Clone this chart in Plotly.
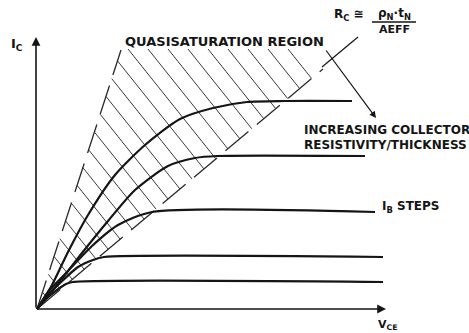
import plotly.graph_objects as go

# ---- Collector characteristic curves (V_CE, I_C), arbitrary units ----
vce_1 = [0, 15, 31, 51, 78, 108, 143, 176, 210, 248, 315]
ic_1 = [0, 24, 57, 94, 134, 164, 190, 201, 207, 208, 208]
vce_2 = [0, 20, 45, 71, 98, 131, 158, 180, 328]
ic_2 = [0, 24, 56, 88, 119, 143, 151, 153, 153]
vce_3 = [0, 12, 31, 55, 81, 115, 338]
ic_3 = [0, 18, 38, 63, 84, 97, 97]
vce_4 = [0, 10, 21, 41, 56, 67, 346]
ic_4 = [0, 13, 24, 42, 49, 52, 52]
vce_5 = [0, 10, 20, 29, 36, 346]
ic_5 = [0, 11, 19, 25, 27, 27]

# ---- Quasisaturation region boundaries ----
left_edge_x = [0, 84]
left_edge_y = [0, 259]
lower_edge_x = [0, 286]
lower_edge_y = [0, 240]
hatch_top_y = 260
hatch_offsets = list(range(19, 460, 20))  # hatch lines: x + 0.8*y = offset

INK = "#151515"
FONT = "DejaVu Sans"

fig = go.Figure()

# hatch lines
hx, hy = [], []
kl = left_edge_x[1] + 0.8 * left_edge_y[1]
kb = lower_edge_x[1] + 0.8 * lower_edge_y[1]
for k in hatch_offsets:
    t = k / kl
    if t <= 1:
        sx, sy = t * left_edge_x[1], t * left_edge_y[1]
    else:
        sy = hatch_top_y
        sx = k - 0.8 * sy
    s = k / kb
    ex, ey = s * lower_edge_x[1], s * lower_edge_y[1]
    hx += [sx, ex, None]
    hy += [sy, ey, None]
fig.add_trace(go.Scatter(x=hx, y=hy, mode="lines",
                         line=dict(color="#3a3a3a", width=1), hoverinfo="skip"))

# region boundaries (dashed)
for bx, by in [(left_edge_x, left_edge_y), (lower_edge_x, lower_edge_y)]:
    fig.add_trace(go.Scatter(x=bx, y=by, mode="lines",
                             line=dict(color="#2a2a2a", width=1.3, dash="30px,11px"),
                             hoverinfo="skip"))

# characteristic curves
for vx, iy in [(vce_1, ic_1), (vce_2, ic_2), (vce_3, ic_3), (vce_4, ic_4), (vce_5, ic_5)]:
    fig.add_trace(go.Scatter(x=vx, y=iy, mode="lines",
                             line=dict(color=INK, width=2.2, shape="spline", smoothing=0.7),
                             hoverinfo="skip"))

# leader line from R_C formula
fig.add_trace(go.Scatter(x=[321, 285], y=[272, 242], mode="lines",
                         line=dict(color=INK, width=1.2), hoverinfo="skip"))

annotations = []
# axes with arrows
annotations.append(dict(x=-1, y=272, ax=-1, ay=0, xref="x", yref="y", axref="x", ayref="y",
                        text="", showarrow=True, arrowhead=2, arrowsize=1.1, arrowwidth=1.6,
                        arrowcolor=INK))
annotations.append(dict(x=349, y=0, ax=-1, ay=0, xref="x", yref="y", axref="x", ayref="y",
                        text="", showarrow=True, arrowhead=2, arrowsize=1.1, arrowwidth=1.6,
                        arrowcolor=INK))
# increasing resistivity arrow
annotations.append(dict(x=339, y=191, ax=288, ay=260, xref="x", yref="y", axref="x", ayref="y",
                        text="", showarrow=True, arrowhead=2, arrowsize=1.1, arrowwidth=1.2,
                        arrowcolor=INK))


def label(text, x, y, size, xanchor="center"):
    annotations.append(dict(x=x, y=y, xref="x", yref="y", text=text, showarrow=False,
                            xanchor=xanchor, yanchor="middle",
                            font=dict(family=FONT, size=size, color=INK, weight="bold")))


label("I<sub>C</sub>", -20, 265, 13)
label("QUASISATURATION REGION", 187, 268, 13)
label("INCREASING COLLECTOR", 265, 179, 12, xanchor="left")
label("RESISTIVITY/THICKNESS", 265, 164, 12, xanchor="left")
label("I<sub>B</sub> STEPS", 343, 102, 12, xanchor="left")
label("V<sub>CE</sub>", 350, -16, 11)
label("R<sub>C</sub> ≅", 312, 294, 12)
label("ρ<sub>N</sub>·t<sub>N</sub>", 357, 295, 12)
label("AEFF", 357, 280, 11)

fig.add_shape(type="line", x0=335, x1=379, y0=287, y1=287, xref="x", yref="y",
              line=dict(color=INK, width=1.4))

fig.update_layout(
    width=469, height=333,
    margin=dict(l=0, r=0, t=0, b=0),
    paper_bgcolor="white", plot_bgcolor="white",
    showlegend=False,
    xaxis=dict(range=[-37, 432], visible=False, fixedrange=True),
    yaxis=dict(range=[-24, 309], visible=False, fixedrange=True),
    annotations=annotations,
)

fig.write_html("out.html", config={"displayModeBar": False},
               post_script="document.body.style.margin='0';")
